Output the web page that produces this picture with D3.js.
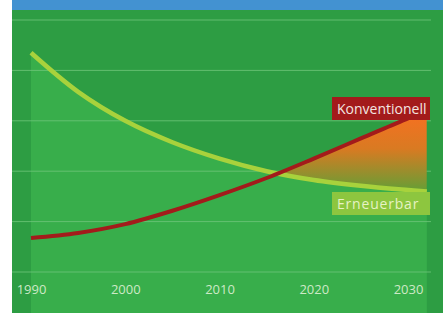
<!DOCTYPE html>
<html>
<head>
<meta charset="utf-8">
<script src="https://cdn.jsdelivr.net/npm/d3@7"></script>
<style>
  body { margin: 0; background: #fff; }
  svg { display: block; }
</style>
</head>
<body>
<div id="chart"></div>
<script>
const years = [1990, 1995, 2000, 2005, 2010, 2015, 2020, 2025, 2030, 2032];
const konventionell = [13.5, 15.5, 19, 24.3, 30.5, 37.3, 45, 53, 61, 64];
const erneuerbar = [87, 71.5, 60, 51.5, 45, 40, 36.5, 34.2, 32.5, 31.9];
const tickYears = [1990, 2000, 2010, 2020, 2030];
const gridValues = [0, 20, 40, 60, 80, 100];

const width = 446;
const height = 313;

const svg = d3.select('#chart')
  .append('svg')
    .attr('width', width)
    .attr('height', height);

// background panel + blue header band
svg.append('rect')
  .attr('x', 12).attr('y', 10)
  .attr('width', 431).attr('height', height - 10)
  .attr('fill', '#2d9d43');
svg.append('rect')
  .attr('x', 12).attr('y', 0)
  .attr('width', 431).attr('height', 10)
  .attr('fill', '#4392d1');

const x = d3.scaleLinear()
  .domain([1990, 2030])
  .range([31, 408]);

const y = d3.scaleLinear()
  .domain([0, 100])
  .range([272, 20]);

const rows = years.map((yr, i) => ({year: yr, k: konventionell[i], e: erneuerbar[i]}));
const curve = d3.curveCatmullRom.alpha(0.5);

const defs = svg.append('defs');
const grad = defs.append('linearGradient')
  .attr('id', 'orangeGrad')
  .attr('gradientUnits', 'userSpaceOnUse')
  .attr('x1', 0).attr('y1', y(62))
  .attr('x2', 0).attr('y2', y(33));
grad.append('stop').attr('offset', 0).attr('stop-color', '#f47121');
grad.append('stop').attr('offset', 0.45).attr('stop-color', '#d97a22');
grad.append('stop').attr('offset', 1).attr('stop-color', '#6a9d35');

// clip = region above the Erneuerbar curve
defs.append('clipPath')
  .attr('id', 'aboveE')
  .append('path')
    .attr('d', d3.area()
      .x(d => x(d.year))
      .y0(0)
      .y1(d => y(d.e))
      .curve(curve)(rows));

// lighter area under the Erneuerbar curve
svg.append('path')
  .datum(rows)
  .attr('fill', '#38ae4b')
  .attr('d', d3.area()
    .x(d => x(d.year))
    .y0(height)
    .y1(d => y(d.e))
    .curve(curve));

// gridlines
svg.append('g')
  .selectAll('line')
  .data(gridValues)
  .join('line')
    .attr('x1', 12)
    .attr('x2', 431)
    .attr('y1', d => y(d))
    .attr('y2', d => y(d))
    .attr('stroke', '#6fc67b')
    .attr('stroke-width', 1)
    .attr('stroke-opacity', 0.8);

// orange gap between the curves
svg.append('path')
  .datum(rows)
  .attr('clip-path', 'url(#aboveE)')
  .attr('fill', 'url(#orangeGrad)')
  .attr('d', d3.area()
    .x(d => x(d.year))
    .y0(height)
    .y1(d => y(d.k))
    .curve(curve));

const lineE = d3.line()
  .x(d => x(d.year))
  .y(d => y(d.e))
  .curve(curve);
const lineK = d3.line()
  .x(d => x(d.year))
  .y(d => y(d.k))
  .curve(curve);

svg.append('path')
  .datum(rows)
  .attr('fill', 'none')
  .attr('stroke', '#a8d23c')
  .attr('stroke-width', 4.5)
  .attr('d', lineE);

svg.append('path')
  .datum(rows)
  .attr('fill', 'none')
  .attr('stroke', '#a31b1b')
  .attr('stroke-width', 4)
  .attr('d', lineK);

// x axis labels
const xAxis = svg.append('g')
  .attr('transform', 'translate(0, 282)')
  .call(d3.axisBottom(x).tickValues(tickYears).tickFormat(d3.format('d')).tickSize(0));
xAxis.select('.domain').remove();
xAxis.selectAll('text')
  .attr('fill', '#cde9c6')
  .style('font-family', 'Open Sans, sans-serif')
  .style('font-size', '13px');

// series labels
const labels = [
  {text: 'Konventionell', y: 97, fill: '#a31b1b', color: '#f3e6e0', spacing: 0},
  {text: 'Erneuerbar', y: 192, fill: '#8dc63f', color: '#e6f2c4', spacing: 0.8}
];
const labelG = svg.append('g')
  .selectAll('g')
  .data(labels)
  .join('g')
    .attr('transform', d => `translate(332, ${d.y})`);
labelG.append('rect')
  .attr('width', 98)
  .attr('height', 23)
  .attr('fill', d => d.fill);
labelG.append('text')
  .attr('x', 5)
  .attr('y', 17)
  .attr('fill', d => d.color)
  .style('font-family', 'Open Sans, sans-serif')
  .style('font-size', '14px')
  .style('letter-spacing', d => d.spacing + 'px')
  .text(d => d.text);
</script>
</body>
</html>
